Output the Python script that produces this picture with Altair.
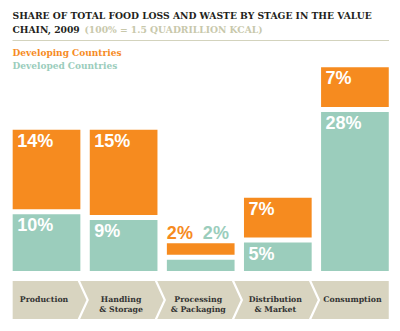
import altair as alt
import pandas as pd

# ---------------- data ----------------
stages = ["Production", "Handling\n& Storage", "Processing\n& Packaging",
          "Distribution\n& Market", "Consumption"]
developing = [14, 15, 2, 7, 7]
developed = [10, 9, 2, 5, 28]
series_names = ["Developing Countries", "Developed Countries"]

title_line1 = "SHARE OF TOTAL FOOD LOSS AND WASTE  BY STAGE IN THE VALUE"
title_line2 = "CHAIN, 2009"
subtitle = "(100% = 1.5 QUADRILLION KCAL)"

# ---------------- style ----------------
ORANGE = "#f68b1f"
TEAL = "#9bcdbc"
DARK = "#231f20"
BEIGE = "#d8d4c0"
SUB = "#c8c8ab"
LABEL_FONT = "Liberation Sans"
SERIF = "DejaVu Serif"

W, H = 400, 331
BASE_Y = 271.0
PX_PER_PCT = 5.68
GAP = 5
X0_PX, STEP_PX = 7.97, 77.1
BAR_L, BAR_R = 0.061, 0.939

# ---------------- tables ----------------
rows = []
for i, (s, dv, dd) in enumerate(zip(stages, developing, developed)):
    small = min(dv, dd) < 3
    rows.append(dict(stage=s, idx=i, series=series_names[1], lo=0, hi=dd,
                     value=dd, small=small, total=dd + dv))
    rows.append(dict(stage=s, idx=i, series=series_names[0], lo=dd, hi=dd + dv,
                     value=dv, small=small, total=dd + dv))
df = pd.DataFrame(rows)
df["x0"] = df["idx"] + BAR_L
df["x1"] = df["idx"] + BAR_R
df["label"] = df["value"].astype(str) + "%"
df["lx"] = df["x0"] + (df["series"] == series_names[1]) * (36 / STEP_PX)

stage_df = pd.DataFrame({"stage": stages, "idx": range(len(stages))})
stage_df["cx"] = stage_df["idx"] + 0.5 - 2.5 / STEP_PX
sep_df = pd.DataFrame({"b": [i - 0.026 for i in range(1, len(stages))]})
band_df = pd.DataFrame({"a": [BAR_L], "b": [len(stages) - 1 + BAR_R]})

xs = alt.Scale(domain=[0, 5], range=[X0_PX, X0_PX + 5 * STEP_PX])
ys = alt.Scale(domain=[0, 35], range=[BASE_Y, BASE_Y - 35 * PX_PER_PCT])
cs = alt.Scale(domain=series_names, range=[ORANGE, TEAL])

base = alt.Chart(df)

green = base.transform_filter(alt.datum.series == series_names[1]).mark_bar(color=TEAL).encode(
    x=alt.X("x0:Q", scale=xs, axis=None), x2="x1:Q",
    y=alt.Y("hi:Q", scale=ys, axis=None), y2="lo:Q")

orange = base.transform_filter(alt.datum.series == series_names[0]).mark_bar(
    color=ORANGE, yOffset=-GAP, y2Offset=-GAP).encode(
    x=alt.X("x0:Q", scale=xs, axis=None), x2="x1:Q",
    y=alt.Y("hi:Q", scale=ys, axis=None), y2="lo:Q")

lab_green = base.transform_filter(
    (alt.datum.series == series_names[1]) & (~alt.datum.small)).mark_text(
    font=LABEL_FONT, fontWeight="bold", fontSize=18, color="white",
    align="left", baseline="alphabetic", dx=4.5, dy=17).encode(
    x=alt.X("x0:Q", scale=xs), y=alt.Y("hi:Q", scale=ys), text="label:N")

lab_orange = base.transform_filter(
    (alt.datum.series == series_names[0]) & (~alt.datum.small)).mark_text(
    font=LABEL_FONT, fontWeight="bold", fontSize=18, color="white",
    align="left", baseline="alphabetic", dx=4.5, dy=17 - GAP).encode(
    x=alt.X("x0:Q", scale=xs), y=alt.Y("hi:Q", scale=ys), text="label:N")

lab_out = base.transform_filter(alt.datum.small).mark_text(
    font=LABEL_FONT, fontWeight="bold", fontSize=18,
    align="left", baseline="alphabetic", dx=0, dy=-GAP - 4.5).encode(
    x=alt.X("lx:Q", scale=xs), y=alt.Y("total:Q", scale=ys), text="label:N",
    color=alt.Color("series:N", scale=cs, legend=None))

band = alt.Chart(band_df).mark_rect(color=BEIGE).encode(
    x=alt.X("a:Q", scale=xs), x2="b:Q", y=alt.value(281), y2=alt.value(319))

seps = alt.Chart(sep_df).mark_point(
    shape="M -0.23 -1 L 0.23 0 L -0.23 1", filled=False, stroke="white",
    strokeWidth=2.2, size=1600, opacity=1).encode(
    x=alt.X("b:Q", scale=xs), y=alt.value(300))

stage_text = alt.Chart(stage_df).mark_text(
    font=SERIF, fontWeight="bold", fontSize=7.8, color="#333333",
    align="center", baseline="middle", lineBreak="\n", lineHeight=10).encode(
    x=alt.X("cx:Q", scale=xs), y=alt.value(300), text="stage:N")

one = pd.DataFrame({"k": [0]})
def txt(t, x, y, color, size=10, weight="bold"):
    return alt.Chart(one).mark_text(
        text=t, font=SERIF, fontWeight=weight, fontSize=size, color=color,
        align="left", baseline="alphabetic").encode(x=alt.value(x), y=alt.value(y))

t1 = txt(title_line1, 12.5, 19, DARK, size=9.2)
t2 = txt(title_line2, 12.5, 32.5, DARK, size=9.2)
t3 = txt(subtitle, 84.5, 32.5, SUB, size=9.2)
leg1 = txt(series_names[0], 12.5, 56, ORANGE, size=9)
leg2 = txt(series_names[1], 12.5, 69, TEAL, size=9)

rule = alt.Chart(one).mark_rule(color="#d3d3bd", strokeWidth=1).encode(
    x=alt.value(12.5), x2=alt.value(389), y=alt.value(40.5))

chart = alt.layer(
    t1, t2, t3, rule, leg1, leg2,
    green, orange, lab_green, lab_orange, lab_out,
    band, seps, stage_text
).properties(
    width=W, height=H, padding=0,
    autosize=alt.AutoSizeParams(type="none"),
    background="white"
).configure_view(stroke=None)

chart.save("out.html", embed_options={"renderer": "svg", "actions": False})
